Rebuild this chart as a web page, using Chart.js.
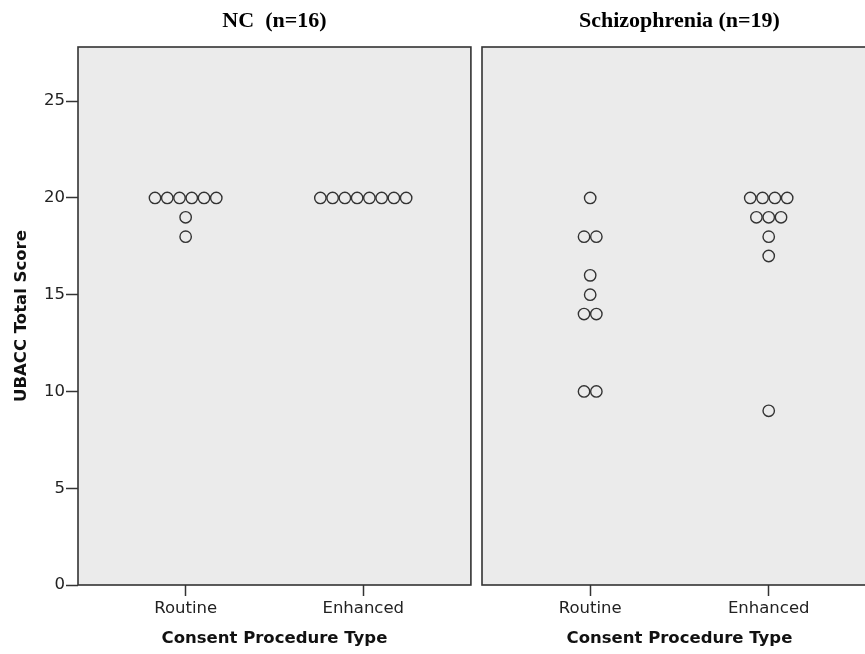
<!DOCTYPE html>
<html>
<head>
<meta charset="utf-8">
<script src="https://cdn.jsdelivr.net/npm/chart.js@4.4.1/dist/chart.umd.min.js"></script>
<style>
  html, body { margin: 0; padding: 0; background: #fff; overflow: hidden; }
  #wrap { position: relative; width: 900px; height: 654px; overflow: hidden; }
  canvas { position: absolute; top: 0; }
  #ncChart { left: 0; }
  #szChart { left: 472px; }
</style>
</head>
<body>
<div id="wrap">
  <canvas id="ncChart" width="478" height="654"></canvas>
  <canvas id="szChart" width="412" height="654"></canvas>
</div>
<script>
const consentTypes = ['Routine', 'Enhanced'];
const panelTitles = ['NC  (n=16)', 'Schizophrenia (n=19)'];
const yTicks = [0, 5, 10, 15, 20, 25];

// UBACC total score, one entry per participant
const ncRoutine = [20, 20, 20, 20, 20, 20, 19, 18];
const ncEnhanced = [20, 20, 20, 20, 20, 20, 20, 20];
const szRoutine = [20, 18, 18, 16, 15, 14, 14, 10, 10];
const szEnhanced = [20, 20, 20, 20, 19, 19, 19, 18, 17, 9];

const DOT_STEP = 0.069;  // horizontal gap between stacked dots, x units
const PANEL_BG = '#ebebeb';
const INK = '#333333';
const SANS = 'DejaVu Sans';

// spread equal scores side by side, centred on the category
function stackDots(scores, xCenter) {
    const counts = {};
    scores.forEach(s => counts[s] = (counts[s] || 0) + 1);
    const seen = {};
    return scores.map(s => {
        seen[s] = seen[s] === undefined ? 0 : seen[s] + 1;
        return { x: xCenter + (seen[s] - (counts[s] - 1) / 2) * DOT_STEP, y: s };
    });
}

const panelFrame = {
    id: 'panelFrame',
    beforeDraw(chart) {
        const a = chart.chartArea;
        const ctx = chart.ctx;
        ctx.save();
        ctx.fillStyle = PANEL_BG;
        ctx.fillRect(a.left, a.top, a.right - a.left, a.bottom - a.top);
        ctx.restore();
    },
    afterDraw(chart) {
        const a = chart.chartArea;
        const ctx = chart.ctx;
        ctx.save();
        ctx.strokeStyle = INK;
        ctx.lineWidth = 1.6;
        ctx.strokeRect(a.left, a.top, a.right - a.left, a.bottom - a.top);
        ctx.restore();
    }
};

function fixHeight(h) {
    return scale => {
        scale.height = h;
        scale.paddingLeft = 0;
        scale.paddingRight = 0;
    };
}

function makePanel(canvasId, title, routine, enhanced, showY) {
    const ctx = document.getElementById(canvasId).getContext('2d');
    const dotStyle = {
        pointRadius: 5.7,
        pointHoverRadius: 5.7,
        pointBorderWidth: 1.4,
        pointBorderColor: INK,
        pointBackgroundColor: 'rgba(0,0,0,0)',
        showLine: false,
        clip: false,
    };
    return new Chart(ctx, {
        type: 'scatter',
        data: {
            datasets: [
                { label: consentTypes[0], data: stackDots(routine, 0), ...dotStyle },
                { label: consentTypes[1], data: stackDots(enhanced, 1), ...dotStyle },
            ],
        },
        options: {
            responsive: false,
            animation: false,
            layout: { padding: showY ? { left: 0, right: 6, top: 0, bottom: 0 } : { left: 10, right: 0, top: 0, bottom: 0 } },
            plugins: {
                legend: { display: false },
                tooltip: { enabled: false },
            },
            scales: {
                x: {
                    type: 'linear',
                    position: 'bottom',
                    min: -0.606,
                    max: 1.606,
                    afterBuildTicks: scale => { scale.ticks = consentTypes.map((_, i) => ({ value: i })); },
                    afterFit: fixHeight(69),
                    ticks: {
                        callback: v => consentTypes[v],
                        color: '#222',
                        font: { family: SANS, size: 16.5 },
                        padding: 3,
                        maxRotation: 0,
                    },
                    grid: { display: true, drawOnChartArea: false, drawTicks: true, tickLength: 11, tickWidth: 1.5, tickColor: INK },
                    border: { display: false },
                    title: {
                        display: true,
                        text: 'Consent Procedure Type',
                        color: '#111',
                        font: { family: SANS, size: 16.5, weight: 'bold' },
                        padding: { top: 0, bottom: 5 },
                    },
                },
                top: {
                    type: 'linear',
                    position: 'top',
                    min: 0,
                    max: 1,
                    afterFit: fixHeight(47),
                    ticks: { display: false },
                    grid: { display: false },
                    border: { display: false },
                    title: {
                        display: true,
                        text: title,
                        color: '#000',
                        font: { family: 'Liberation Serif', size: 22, weight: 'bold' },
                        padding: { top: 8, bottom: 0 },
                    },
                },
                y: {
                    display: showY,
                    min: 0,
                    max: 27.8,
                    afterBuildTicks: scale => { scale.ticks = yTicks.map(v => ({ value: v })); },
                    afterFit: scale => {
                        scale.width = showY ? 78 : 0;
                        scale.paddingTop = 0;
                        scale.paddingBottom = 0;
                    },
                    ticks: {
                        color: '#222',
                        font: { family: SANS, size: 16.5 },
                        padding: 1,
                    },
                    grid: { display: true, drawOnChartArea: false, drawTicks: true, tickLength: 12, tickWidth: 1.5, tickColor: INK },
                    border: { display: false },
                    title: {
                        display: true,
                        text: 'UBACC Total Score',
                        color: '#111',
                        font: { family: SANS, size: 16.5, weight: 'bold' },
                        padding: { top: 12, bottom: 0 },
                    },
                },
            },
        },
        plugins: [panelFrame],
    });
}

makePanel('ncChart', panelTitles[0], ncRoutine, ncEnhanced, true);
makePanel('szChart', panelTitles[1], szRoutine, szEnhanced, false);
</script>
</body>
</html>
